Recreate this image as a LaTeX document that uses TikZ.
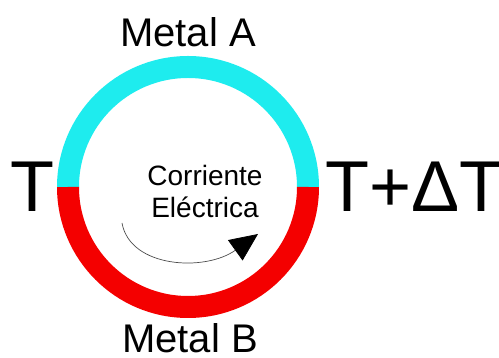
\documentclass[tikz,border=0pt]{standalone}
\usepackage{fontspec}
\setmainfont{Liberation Sans}
\usetikzlibrary{arrows.meta}
\definecolor{metalA}{RGB}{30,236,238}
\definecolor{metalB}{RGB}{244,0,0}
\begin{document}
\begin{tikzpicture}[
x=1pt, y=1pt,
every node/.style={inner sep=0pt},
etiqueta/.style={font=\fontsize{40}{48}\selectfont, anchor=base},
temp/.style={font=\fontsize{72}{80}\selectfont, anchor=base},
corriente/.style={font=\fontsize{28}{32}\selectfont, align=center}
]
\useasboundingbox (0,0) rectangle (499,358);

% anillo de dos metales
\draw[metalA, line width=22pt] (68,171) arc[start angle=180, end angle=0, radius=120];
\draw[metalB, line width=22pt] (68,171) arc[start angle=180, end angle=360, radius=120];

\node[etiqueta] (A) at (188,311)
{Metal A};

\node[etiqueta] (B) at (190,5)
{Metal B};

\node[temp] (T1) at (32,146)
{T};

\node[temp, anchor=base west] (T2) at (325,146)
{T+ΔT};

\node[corriente] (I) at (205,167)
{Corriente\\Eléctrica};

\coordinate (ini) at (122,135);
\coordinate (fin) at (258,124);

\draw[black!70, line width=0.7pt, -{Triangle[length=28pt,width=25pt,color=black]}]
(ini) .. controls (130,90) and (205,86) .. (fin);

\end{tikzpicture}
\end{document}
